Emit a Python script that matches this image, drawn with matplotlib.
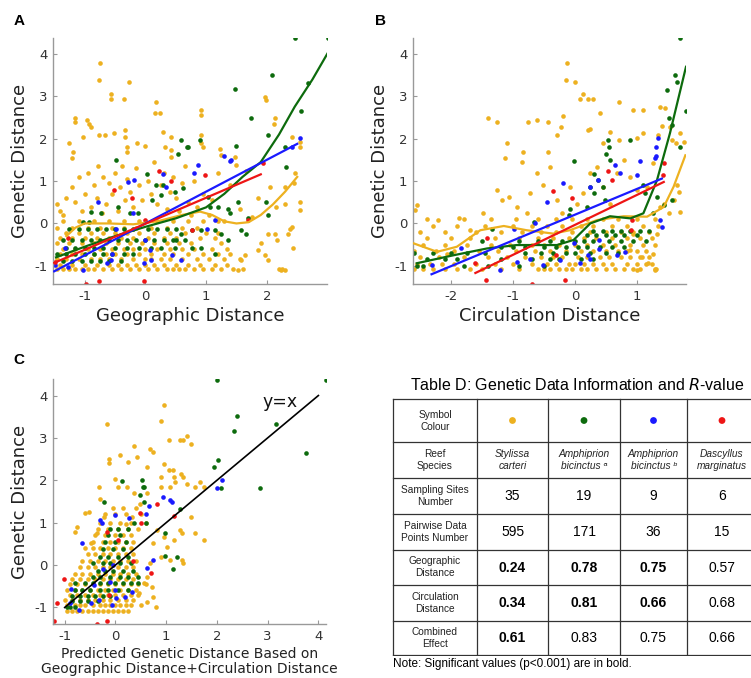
import numpy as np
import matplotlib.pyplot as plt

YEL = '#EDB120'
GRN = '#0d6b0d'
BLU = '#1a1aff'
RED = '#ee1515'

# ---------------- panel A : geographic distance ----------------
a_yel_pts = [(-0.75,3.78),(-0.76,3.39),(-0.27,3.35),(-0.56,3.06),(-0.56,2.94),(-0.35,2.94),(0.18,2.87),
             (0.16,2.62),(0.24,2.62),(0.92,2.68),(0.92,2.56),(-1.16,2.48),(-1.15,2.40),(-0.96,2.44),
             (-0.92,2.36),(-0.90,2.28),(-1.03,2.05),(-1.25,1.89),(-1.19,1.69),(-1.21,1.54),(-0.77,2.09),
             (-0.66,2.08),(-0.52,2.13),(-0.34,2.20),(-0.33,2.05),(-0.31,1.81),(-0.31,1.69),(-0.13,1.89),
             (0.0,1.84),(0.29,2.17),(0.32,1.81),(0.43,1.73),(0.43,1.57),(0.43,2.05),(0.92,2.09),(0.91,1.89),
             (0.95,1.81),(1.23,1.77),(1.25,1.61),(1.47,1.57),(1.50,1.38),(1.97,2.99),(1.98,2.91),(2.13,2.48),
             (2.12,2.35),(2.41,2.05),(2.54,1.93),(2.55,1.81),(2.46,1.18),(2.54,0.51),(2.54,0.31),(2.30,0.47),
             (2.41,-0.08),(2.34,-0.24),(2.13,-0.24),(2.16,-0.39),(2.02,-0.24),(1.91,-0.47),(1.97,-0.75),
             (2.24,-1.10),(2.30,-1.10),(2.02,-0.87),(1.64,-0.75),(1.53,-1.10),(1.58,-0.87),(1.86,-0.63),
             (2.38,-0.12),(2.43,-0.59),
             (-1.45,0.45),(-1.4,0.3),(-1.35,0.2),(-1.3,0.6),(-1.2,0.85),(-1.15,0.5),(-1.1,1.1),(-1.05,0.3),
             (-1.0,0.7),(-0.95,1.2),(-0.9,0.4),(-0.85,0.9),(-0.8,0.6),(-0.78,1.35),(-0.72,0.25),(-0.7,1.1),
             (-0.65,0.45),(-0.6,0.95),(-0.55,0.7),(-0.5,1.2),(-0.45,0.3),(-0.42,0.85),(-0.38,1.35),(-0.33,0.55),
             (-0.3,1.05),(-0.25,0.75),(-0.2,0.4),(-0.15,1.3),(-0.1,0.9),(-0.05,0.55),(0.05,1.0),(0.1,0.7),
             (0.15,1.45),(0.2,0.45),(0.25,0.9),(0.3,1.2),(0.35,0.35),(0.4,0.75),(0.45,1.1),(0.5,0.6),(0.55,0.3),
             (0.6,0.95),(0.65,1.35),(0.7,0.5),(0.75,0.2),(0.8,1.0),(0.85,0.4),(0.95,0.7),(1.05,0.2),(1.1,0.55),
             (1.2,1.2),(1.3,0.05),(1.4,0.9),(1.55,0.35),(1.65,1.25),(1.75,0.15),(1.85,0.6),(2.05,0.85),
             (2.15,0.4),(2.3,0.85),(2.45,0.95)]
a_yel_rows = [(-1.08, [-1.45,-1.35,-1.25,-1.15,-1.05,-0.95,-0.85,-0.7,-0.55,-0.4,-0.25,-0.1,0.05,0.2,0.35,0.45,
                       0.55,0.65,0.8,0.95,1.1,1.25,1.45,1.6,2.2,2.25]),
              (-0.97, [-1.4,-1.2,-1.0,-0.8,-0.6,-0.45,-0.3,-0.15,0.0,0.15,0.3,0.5,0.7,0.9,1.15,1.35]),
              (-0.85, [-1.45,-1.3,-1.1,-0.9,-0.75,-0.6,-0.4,-0.2,0.0,0.1,0.25,0.4,0.6,0.85,1.05,1.3,1.55]),
              (-0.72, [-1.4,-1.2,-1.05,-0.85,-0.65,-0.5,-0.3,-0.1,0.1,0.3,0.45,0.7,0.95,1.2,1.4]),
              (-0.60, [-1.35,-1.15,-0.95,-0.75,-0.55,-0.35,-0.2,0.0,0.2,0.4,0.6,0.8,1.1,1.35]),
              (-0.47, [-1.45,-1.25,-1.05,-0.85,-0.65,-0.45,-0.25,-0.05,0.15,0.35,0.55,0.75,1.25]),
              (-0.35, [-1.4,-1.2,-1.0,-0.8,-0.6,-0.4,-0.2,0.05,0.3,0.5,0.9,1.15]),
              (-0.22, [-1.3,-1.1,-0.9,-0.7,-0.5,-0.3,-0.1,0.15,0.4,0.65,1.0,1.2]),
              (-0.10, [-1.45,-1.2,-0.95,-0.75,-0.55,-0.35,-0.15,0.1,0.35,0.6,0.85]),
              (0.05, [-1.35,-1.1,-0.85,-0.6,-0.35,-0.1,0.2,0.45,0.7,0.95,1.2])]
a_grn_pts = [(2.46,4.37),(3.01,4.37),(1.48,3.17),(2.08,3.5),(2.67,3.32),(2.57,2.65),(1.74,2.48),(2.02,2.09),
             (1.5,1.83),(2.3,1.81),(2.32,1.34),(0.59,1.98),(0.68,1.81),(0.71,1.81),(0.54,1.65),(0.90,1.98),
             (-0.48,1.5),(0.03,1.17),(0.18,0.91),(0.29,0.91),(0.26,0.67),(0.11,0.55),(0.48,0.75),(0.62,0.83),
             (1.03,0.63),(1.06,0.38),(1.20,0.39),(1.36,0.35),(1.52,0.51),(1.99,0.51),(2.02,0.2),(1.69,0.12),
             (1.57,-0.16),(1.66,-0.24),(1.14,-0.16),(0.92,-0.16),(0.76,-0.16),(0.59,-0.24),(0.51,-0.39),
             (0.65,-0.39),(0.48,-0.59),(0.76,-0.59),(0.92,-0.59),(1.14,-0.71),(1.36,-0.39),(1.25,-0.24),
             (1.39,0.24),(-0.89,0.28),(-1.03,0.04),(-0.92,0.04),(-0.73,0.24),(-0.45,0.39),(-0.26,0.24),
             (-0.12,0.24)]
a_grn_rows = [(-0.12, [-1.25,-1.1,-0.95,-0.8,-0.65,-0.5,-0.35,-0.2,0.05,0.2,0.35,0.5]),
              (-0.39, [-1.35,-1.2,-1.05,-0.9,-0.75,-0.6,-0.45,-0.3,-0.15,0.0,0.15,0.3,0.45]),
              (-0.57, [-1.3,-1.15,-1.0,-0.85,-0.7,-0.5,-0.3,-0.1,0.1,0.25]),
              (-0.73, [-1.45,-1.3,-1.15,-1.0,-0.85,-0.7,-0.55,-0.35,-0.2]),
              (-0.88, [-1.35,-1.2,-1.05,-0.9,-0.75,-0.6,-0.4])]
a_blu_pts = [(-1.49,-0.98),(-1.33,-0.59),(-1.27,-1.02),(-1.03,-1.09),(-0.78,0.51),(-0.63,-0.94),(-0.49,-0.14),
             (-0.56,-0.87),(-0.29,0.98),(-0.18,1.02),(-0.2,0.24),(-0.01,-0.39),(-0.03,-0.94),(0.10,-0.87),
             (0.07,-0.63),(0.29,1.17),(0.34,0.87),(0.44,-0.75),(0.59,-0.87),(0.87,1.38),(0.80,1.18),(1.30,1.59),
             (1.41,1.51),(1.40,1.47),(1.14,0.08),(1.01,-0.12),(2.54,2.01),(2.41,1.81),(-0.55,-0.71)]
a_red_pts = [(-0.97,-1.43),(-0.77,-1.36),(-0.03,-1.35),(-1.27,-0.35),(-0.52,0.79),(-0.22,0.61),(0.23,1.24),
             (0.43,1.01),(0.98,1.15),(0.76,-0.16),(1.69,0.08),(1.94,1.42),(-1.49,-0.91),(-0.01,0.08)]
a_yel_line = [(-1.3,-0.3),(-1.15,-0.1),(-1.0,0.0),(-0.6,0.0),(-0.2,-0.02),(0.2,0.05),(0.6,0.2),(0.9,0.28),
              (1.1,0.2),(1.3,0.05),(1.5,0.0),(1.7,0.03),(1.9,0.2),(2.1,0.45),(2.3,0.75),(2.5,1.1)]
a_grn_line = [(-1.47,-0.8),(-1.0,-0.55),(-0.5,-0.3),(0.0,-0.08),(0.5,0.12),(1.0,0.38),(1.3,0.7),(1.6,1.1),
              (1.9,1.45),(2.2,2.1),(2.46,2.76),(2.75,3.4),(3.0,4.02)]
a_blu_line = [(-1.5,-1.13),(2.5,1.88)]
a_red_line = [(-1.5,-0.93),(1.9,1.16)]

# ---------------- panel B : circulation distance ----------------
b_yel_pts = [(-0.13,3.78),(-0.15,3.39),(0.0,3.35),(0.14,3.06),(0.09,2.94),(0.22,2.94),(0.29,2.94),(0.72,2.87),
             (0.41,2.6),(-0.22,2.28),(-0.19,2.54),(0.95,2.68),(1.10,2.68),(-1.40,2.48),(-1.26,2.40),(-0.75,2.40),
             (-0.62,2.44),(-0.43,2.40),(-1.10,1.89),(-1.13,1.54),(-0.84,1.69),(-0.86,1.46),(-0.43,1.69),
             (-0.29,2.09),(0.22,2.2),(0.25,2.24),(0.46,1.89),(0.57,2.17),(0.72,1.97),(1.00,2.01),(1.11,2.13),
             (1.38,2.76),(1.46,2.72),(1.41,2.30),(1.57,1.97),(1.64,1.89),(1.70,2.13),(1.54,2.28),(1.35,2.09),
             (1.76,1.93),(1.68,0.75),(1.71,0.28),(1.60,0.55),(1.52,0.24),(1.44,0.47),(1.33,-0.24),(1.27,-0.71),
             (1.30,-1.1),(1.19,-0.94),(1.08,-0.79),(1.00,-1.1),(0.90,-0.63),(0.95,-0.24),
             (-2.56,0.43),(-2.58,0.31),(-2.21,0.08),(-1.88,0.12),(-1.69,-0.16),(-1.48,0.24),(-1.26,0.79),
             (-1.18,0.55),(-1.07,0.63),(-0.94,0.39),(-0.78,0.24),(-0.72,0.71),(-0.62,1.18),(-0.51,0.91),
             (-0.4,1.34),(-0.29,0.55),(-0.21,0.24),(-0.08,0.87),(0.03,0.47),(0.14,0.71),(0.25,1.18),(0.36,1.34),
             (0.46,0.87),(0.57,0.47),(0.68,1.18),(0.79,1.5),(0.90,1.10),(1.00,0.79),(1.17,0.87),(1.27,1.42),
             (1.38,0.39),(1.65,0.91),(-2.07,-0.71)]
b_yel_rows = [(-1.08, [-2.6,-2.45,-2.3,-2.1,-1.9,-1.7,-1.5,-1.2,-0.9,-0.6,-0.5,-0.4,-0.25,-0.15,-0.05,0.1,0.2,
                       0.35,0.5,0.65,0.8,0.95,1.05,1.3,1.32]),
              (-0.95, [-2.55,-2.35,-2.15,-1.95,-1.6,-1.3,-1.0,-0.7,-0.45,-0.3,-0.1,0.0,0.15,0.3,0.45,0.6,0.85,
                       1.0,1.15,1.25]),
              (-0.80, [-2.5,-2.2,-1.8,-1.4,-1.1,-0.8,-0.55,-0.35,-0.2,0.05,0.2,0.4,0.55,0.75,0.9,1.05,1.2]),
              (-0.65, [-2.6,-2.25,-1.95,-1.55,-1.25,-0.95,-0.65,-0.4,-0.15,0.1,0.3,0.5,0.7,0.85,1.0,1.15]),
              (-0.50, [-2.45,-2.1,-1.75,-1.35,-1.05,-0.7,-0.5,-0.25,0.0,0.2,0.45,0.65,0.9,1.1,1.3]),
              (-0.35, [-2.4,-2.0,-1.7,-1.3,-0.9,-0.6,-0.35,-0.1,0.15,0.35,0.6,0.85,1.05,1.25]),
              (-0.20, [-2.5,-2.1,-1.6,-1.2,-0.85,-0.55,-0.3,-0.05,0.25,0.5,0.75,0.95,1.2]),
              (-0.05, [-2.3,-1.9,-1.45,-1.0,-0.7,-0.45,-0.2,0.1,0.3,0.6,0.85,1.1,1.35]),
              (0.10, [-2.4,-1.8,-1.35,-0.95,-0.6,-0.3,-0.05,0.2,0.45,0.7,1.0,1.3])]
b_grn_pts = [(1.71,4.37),(1.62,3.50),(1.66,3.35),(1.80,2.65),(1.49,3.15),(1.52,2.48),(1.57,2.32),(1.71,1.81),
             (0.90,1.98),(0.53,1.98),(0.56,1.81),(0.51,1.65),(0.57,1.5),(-0.01,1.48),(0.31,1.17),(0.38,1.02),
             (0.25,0.87),(0.31,0.71),(0.46,0.87),(0.49,0.55),(0.19,0.39),(-0.08,0.35),(-0.10,0.2),(-0.66,0.04),
             (-1.34,-0.12),(1.11,0.91),(1.13,0.71),(1.27,0.24),(1.44,0.43),(1.57,0.55),(1.33,0.63)]
b_grn_rows = [(-0.17, [0.3,0.45,0.6,0.75,0.9,1.05,1.2]),
              (-0.28, [0.2,0.35,0.5,0.65,0.8,1.0]),
              (-0.42, [-1.5,-0.9,-0.6,-0.4,-0.2,0.0,0.15,0.3,0.55,0.75,0.95,1.15]),
              (-0.55, [-1.2,-1.0,-0.8,-0.5,-0.3,-0.15,0.05,0.2,0.4,0.6,0.8]),
              (-0.70, [-2.6,-2.3,-2.0,-1.75,-1.45,-0.8,-0.55,-0.35,-0.15,0.0,0.25,0.5,0.7]),
              (-0.85, [-2.4,-2.1,-1.9,-1.2,-0.7,-0.4,-0.25,0.1,0.3]),
              (-1.00, [-2.55,-2.45,-1.8,-1.4,-0.9,-0.5])]
b_blu_pts = [(1.34,2.01),(1.32,1.81),(1.32,1.59),(1.30,1.54),(1.05,1.48),(1.00,1.14),(0.65,1.38),(0.73,1.18),
             (-0.19,0.96),(-0.45,0.51),(0.25,0.87),(0.37,1.02),(-0.98,-0.14),(-1.84,-0.59),(-2.32,-0.98),
             (-1.21,-1.09),(-0.94,-0.91),(-0.64,0.02),(-0.51,-0.98),(-0.24,-0.87),(-0.02,-0.47),(0.09,-0.94),
             (0.22,-0.75),(0.25,-0.85),(0.39,-0.39),(0.39,-0.61),(0.68,-0.75),(0.81,-0.67),(1.38,0.08),
             (1.41,-0.08),(-0.73,-0.83)]
b_red_pts = [(-1.44,-1.34),(-0.69,-1.43),(-0.16,-1.34),(-1.61,-0.94),(-1.42,-0.34),(-0.36,0.77),(-0.04,0.61),
             (0.53,1.24),(0.61,1.02),(-0.30,-0.75),(0.92,0.08),(0.91,-0.16),(1.44,1.42),(1.43,1.14)]
b_yel_line = [(-2.61,-0.47),(-2.23,-0.67),(-1.91,-0.55),(-1.53,-0.16),(-1.15,-0.06),(-0.78,-0.16),
              (-0.35,-0.24),(-0.08,-0.16),(0.36,0.08),(0.79,0.17),(1.17,0.16),(1.44,0.39),(1.6,0.87),(1.79,1.61)]
b_grn_line = [(-2.56,-0.94),(-1.96,-0.75),(-1.42,-0.59),(-0.94,-0.51),(-0.29,-0.51),(-0.02,-0.39),(0.25,0.0),
              (0.57,0.17),(0.9,0.12),(1.11,0.24),(1.33,1.02),(1.54,2.13),(1.80,3.70)]
b_blu_line = [(-2.32,-1.2),(1.41,1.06)]
b_red_line = [(-1.61,-1.17),(1.44,0.98)]

# ---------------- panel C : predicted vs observed ----------------
c_yel_pts = [(0.95,3.78),(0.90,3.40),(-0.16,3.33),(1.05,2.96),(1.28,2.96),(1.33,2.96),(1.42,3.05),(1.49,2.86),
             (0.36,2.80),(0.69,2.75),(0.74,2.67),(-0.13,2.51),(-0.13,2.41),(0.10,2.59),(0.25,2.43),(0.43,2.55),
             (0.62,2.31),(0.95,2.39),(1.05,2.24),(1.13,2.24),(1.15,2.08),(1.30,2.16),(1.33,2.08),(1.18,1.96),
             (1.41,1.92),(1.57,1.84),(1.08,1.84),(0.89,2.08),(0.89,1.84),(0.62,1.69),(0.36,1.69),(0.23,1.84),
             (0.05,1.84),(0.0,2.04),(-0.33,1.84),(-0.30,1.57),(-0.52,1.25),(-0.59,1.23),(-0.75,0.9),(-0.79,0.78),
             (1.74,1.84),(1.74,0.59),(1.57,0.75),(1.48,1.14),(1.28,0.82),(1.31,0.75),(1.31,0.12),(1.34,0.04),
             (1.15,0.59),(1.08,0.12),(0.95,0.67),(1.02,0.43),(0.82,0.82),(0.75,0.51),(0.89,0.2),(0.69,0.04),
             (0.62,-0.27),(0.72,-0.51),(0.75,-0.75),(0.62,-0.86),(0.79,-0.98),(0.56,-0.43),(0.46,-0.67),
             (0.49,1.45),(0.33,1.14),(0.20,0.98),(-0.23,1.14),(-0.36,0.75),(-0.49,0.51),(1.67,1.96)]
c_yel_rows = [(-1.08, [-0.95,-0.85,-0.75,-0.65,-0.55,-0.45,-0.35,-0.25,-0.15,-0.05,0.05,0.15,0.25]),
              (-0.95, [-0.95,-0.8,-0.7,-0.6,-0.45,-0.3,-0.2,-0.1,0.0,0.1,0.2,0.3,0.5]),
              (-0.82, [-1.0,-0.85,-0.7,-0.55,-0.4,-0.25,-0.1,0.05,0.2,0.35]),
              (-0.70, [-0.9,-0.75,-0.6,-0.45,-0.3,-0.15,0.0,0.15,0.3,0.45]),
              (-0.58, [-0.95,-0.8,-0.65,-0.5,-0.35,-0.2,-0.05,0.1,0.25,0.4]),
              (-0.45, [-0.9,-0.75,-0.6,-0.45,-0.3,-0.15,0.0,0.15,0.3,0.45,0.6]),
              (-0.32, [-0.85,-0.7,-0.55,-0.4,-0.25,-0.1,0.05,0.2,0.35]),
              (-0.20, [-0.8,-0.65,-0.5,-0.35,-0.2,-0.05,0.1,0.25,0.4]),
              (-0.05, [-0.7,-0.55,-0.4,-0.25,-0.1,0.05,0.2,0.35]),
              (0.10, [-0.65,-0.5,-0.35,-0.2,-0.05,0.1,0.25,0.4]),
              (0.25, [-0.55,-0.4,-0.25,-0.1,0.05,0.2,0.35]),
              (0.40, [-0.6,-0.45,-0.3,-0.15,0.0,0.15,0.3]),
              (0.55, [-0.45,-0.25,-0.1,0.05,0.2,0.35]),
              (0.70, [-0.4,-0.2,0.0,0.15,0.3]),
              (0.85, [-0.35,-0.15,0.05,0.25,0.45]),
              (1.00, [-0.3,-0.1,0.1,0.3,0.6]),
              (1.20, [-0.2,0.0,0.2,0.5]),
              (1.35, [-0.05,0.15,0.4])]
c_grn_pts = [(2.0,4.37),(4.15,4.37),(2.39,3.51),(2.34,3.16),(3.17,3.33),(3.76,2.65),(2.84,1.82),(2.03,2.49),
             (1.95,2.31),(2.08,1.83),(1.28,1.33),(0.97,0.76),(0.98,0.21),(1.21,0.2),(1.13,-0.1),(0.13,1.98),
             (-0.23,1.49),(0.52,2.0),(0.55,1.84),(0.56,1.84),(0.49,1.65),(0.57,1.49),(0.60,1.0),(0.36,1.0)]
c_grn_rows = [(-1.00, [-0.95,-0.9,-0.8]),
              (-0.85, [-0.85,-0.7,-0.55,-0.35]),
              (-0.72, [-0.85,-0.7,-0.55,-0.4,-0.25,-0.1]),
              (-0.58, [-0.8,-0.65,-0.5,-0.3,-0.15,0.05,0.25]),
              (-0.42, [-0.8,-0.6,-0.45,-0.3,-0.15,0.0,0.15,0.3,0.45]),
              (-0.28, [-0.45,-0.3,-0.1,0.1,0.25,0.45]),
              (-0.15, [-0.35,-0.2,-0.05,0.15,0.35]),
              (0.05, [-0.45,-0.25,-0.1,0.1,0.3]),
              (0.20, [-0.3,-0.15,0.05,0.25]),
              (0.38, [-0.25,-0.05,0.15]),
              (0.55, [-0.2,0.0,0.2]),
              (0.70, [-0.15,0.1]),
              (0.85, [-0.1,0.05,0.25])]
c_blu_pts = [(2.1,2.0),(2.0,1.83),(0.93,1.61),(1.07,1.53),(1.11,1.49),(0.66,1.39),(0.60,1.2),(0.0,1.18),
             (-0.30,1.07),(-0.26,1.0),(0.26,1.1),(-0.66,0.53),(0.75,0.12),(0.62,-0.08),(-0.05,0.0),(-0.24,-0.1),
             (-0.1,-0.39),(0.0,-0.59),(0.33,-0.63),(0.18,-0.75),(0.02,-0.78),(-0.07,-0.94),(-0.33,-0.82),
             (-0.49,-0.9),(-0.87,-0.57),(-0.89,-0.9),(-0.72,-1.06),(-0.43,-0.47)]
c_red_pts = [(-1.21,-1.32),(-0.36,-1.40),(-0.16,-1.32),(-1.02,-0.34),(-1.16,-0.9),(-0.16,0.78),(0.05,0.6),
             (0.48,1.24),(0.50,1.0),(0.82,1.43),(1.15,1.16),(0.35,0.1),(0.70,-0.18),(-0.13,-0.71)]
c_ref_line = [(-1.0,-1.0),(4.0,4.0)]

# ---------------- table D ----------------
row_heads = ['Symbol\nColour', 'Reef\nSpecies', 'Sampling Sites\nNumber', 'Pairwise Data\nPoints Number',
             'Geographic\nDistance', 'Circulation\nDistance', 'Combined\nEffect']
species = ['Stylissa\ncarteri', 'Amphiprion\nbicinctus \u1d43', 'Amphiprion\nbicinctus \u1d47',
           'Dascyllus\nmarginatus']
species_col = [YEL, GRN, BLU, RED]
sites = [35, 19, 9, 6]
pairs = [595, 171, 36, 15]
r_geo = [0.24, 0.78, 0.75, 0.57]
r_circ = [0.34, 0.81, 0.66, 0.68]
r_comb = [0.61, 0.83, 0.75, 0.66]
sig_geo = [True, True, True, False]
sig_circ = [True, True, True, False]
sig_comb = [True, False, False, False]


def expand(pts, rows=()):
    xs = [p[0] for p in pts]
    ys = [p[1] for p in pts]
    for y, row in rows:
        xs += row
        ys += [y] * len(row)
    return xs, ys


def line_xy(pts):
    return [p[0] for p in pts], [p[1] for p in pts]


W, H = 751, 678
fig = plt.figure(figsize=(W / 100, H / 100), dpi=100)


def px_axes(l, t, r, b):
    return fig.add_axes([l / W, 1 - b / H, (r - l) / W, (b - t) / H])


def style(ax, xlim, ylim, xticks):
    ax.set_xlim(*xlim)
    ax.set_ylim(*ylim)
    ax.set_xticks(xticks)
    ax.set_yticks([-1, 0, 1, 2, 3, 4])
    ax.set_xticklabels([str(t) for t in xticks])
    ax.set_yticklabels(['-1', '0', '1', '2', '3', '4'])
    for s in ['top', 'right']:
        ax.spines[s].set_visible(False)
    for s in ['left', 'bottom']:
        ax.spines[s].set_color('#999999')
        ax.spines[s].set_linewidth(1.0)
    ax.tick_params(direction='in', length=3, color='#999999', labelcolor='#333333', labelsize=9.5, pad=4)
    ax.set_ylabel('Genetic Distance', fontsize=13, color='#222222', labelpad=4)


def dots(ax, pts, rows, col):
    xs, ys = expand(pts, rows)
    ax.scatter(xs, ys, s=11, color=col, linewidths=0, zorder=2)


# panel A
axA = px_axes(53, 38, 327, 284)
dots(axA, a_yel_pts, a_yel_rows, YEL)
dots(axA, a_grn_pts, a_grn_rows, GRN)
dots(axA, a_blu_pts, (), BLU)
dots(axA, a_red_pts, (), RED)
for ln, col in [(a_yel_line, YEL), (a_grn_line, GRN), (a_blu_line, BLU), (a_red_line, RED)]:
    x, y = line_xy(ln)
    axA.plot(x, y, color=col, lw=1.6, zorder=3)
style(axA, (-1.52, 2.99), (-1.43, 4.38), [-1, 0, 1, 2])
axA.set_xlabel('Geographic Distance', fontsize=13, color='#222222', labelpad=3)

# panel B
axB = px_axes(413, 38, 686, 284)
dots(axB, b_yel_pts, b_yel_rows, YEL)
dots(axB, b_grn_pts, b_grn_rows, GRN)
dots(axB, b_blu_pts, (), BLU)
dots(axB, b_red_pts, (), RED)
for ln, col in [(b_yel_line, YEL), (b_grn_line, GRN), (b_blu_line, BLU), (b_red_line, RED)]:
    x, y = line_xy(ln)
    axB.plot(x, y, color=col, lw=1.6, zorder=3)
style(axB, (-2.62, 1.80), (-1.43, 4.38), [-2, -1, 0, 1])
axB.set_xlabel('Circulation Distance', fontsize=13, color='#222222', labelpad=3)

# panel C
axC = px_axes(53, 379, 326, 624)
dots(axC, c_yel_pts, c_yel_rows, YEL)
dots(axC, c_grn_pts, c_grn_rows, GRN)
dots(axC, c_blu_pts, (), BLU)
dots(axC, c_red_pts, (), RED)
x, y = line_xy(c_ref_line)
axC.plot(x, y, color='black', lw=1.2, zorder=3)
axC.text(3.25, 3.84, 'y=x', fontsize=12.5, ha='center', va='center', color='#111111')
style(axC, (-1.23, 4.15), (-1.39, 4.39), [-1, 0, 1, 2, 3, 4])
axC.set_xlabel('Predicted Genetic Distance Based on\nGeographic Distance+Circulation Distance',
               fontsize=10, color='#222222', labelpad=3, linespacing=1.15)

# panel letters
for lab, px, py in [('A', 19, 21), ('B', 381, 21), ('C', 19, 360)]:
    fig.text(px / W, 1 - py / H, lab, fontsize=11, fontweight='bold', family='Liberation Sans',
             ha='center', va='center')

# table D
TF = ['Liberation Sans', 'DejaVu Sans']
col_edges = [393, 477, 548, 620, 687, 755]
row_edges = [399, 442, 478, 514, 550, 585, 621, 655]
axT = px_axes(392, 398, 751, 656)
axT.set_xlim(392, 751)
axT.set_ylim(656, 398)
axT.axis('off')
for yy in row_edges:
    axT.plot([col_edges[0], col_edges[-1]], [yy, yy], color='#333333', lw=0.9)
for xx in col_edges:
    axT.plot([xx, xx], [row_edges[0], row_edges[-1]], color='#333333', lw=0.9)

cx = [(col_edges[i] + col_edges[i + 1]) / 2 for i in range(5)]
cx[4] = 722
cy = [(row_edges[i] + row_edges[i + 1]) / 2 for i in range(7)]

for i, h in enumerate(row_heads):
    axT.text(cx[0], cy[i], h, fontsize=7.3, family=TF, ha='center', va='center', linespacing=1.25,
             color='#222222')
axT.scatter(cx[1:], [cy[0]] * 4, s=24, color=species_col, linewidths=0)
for j, sp in enumerate(species):
    axT.text(cx[j + 1], cy[1], sp, fontsize=7.3, family=TF, style='italic', ha='center', va='center',
             linespacing=1.25, color='#222222')
for j in range(4):
    axT.text(cx[j + 1], cy[2], str(sites[j]), fontsize=10, family=TF, ha='center', va='center')
    axT.text(cx[j + 1], cy[3], str(pairs[j]), fontsize=10, family=TF, ha='center', va='center')
    for r, (vals, sig) in enumerate([(r_geo, sig_geo), (r_circ, sig_circ), (r_comb, sig_comb)]):
        axT.text(cx[j + 1], cy[4 + r], '%.2f' % vals[j], fontsize=10, family=TF, ha='center', va='center',
                 fontweight='bold' if sig[j] else 'normal')

fig.text(577 / W, 1 - 385 / H, 'Table D: Genetic Data Information and $\\it{R}$-value', fontsize=11.5,
         family='Liberation Sans', ha='center', va='center')
fig.text(393 / W, 1 - 664 / H, 'Note: Significant values (p<0.001) are in bold.', fontsize=8.5,
         family='Liberation Sans', ha='left', va='center')

fig.savefig('out.png', dpi=100)
